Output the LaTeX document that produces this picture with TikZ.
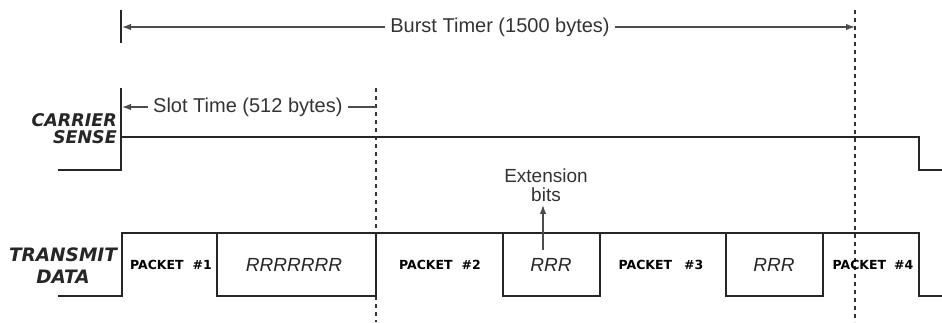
\documentclass[tikz,border=0pt]{standalone}
\usepackage{fontspec}
\setmainfont{Liberation Sans}
\newfontfamily\wideface{DejaVu Sans}
\usetikzlibrary{arrows.meta}

\tikzset{
  wire/.style={line width=1.3pt, black!85},
  guide/.style={line width=1.1pt, black!80, dash pattern=on 4pt off 4pt},
  dim/.style={line width=1.3pt, black!70},
  tip/.style={-{Latex[length=9pt,width=6.5pt]}},
  note/.style={font=\fontsize{20}{20}\selectfont, text=black!80, inner sep=5pt},
  sig/.style={font=\wideface\fontsize{17.5}{17}\selectfont\bfseries\itshape, text=black!85, inner sep=0pt},
  pkt/.style={font=\wideface\fontsize{12.5}{12.5}\selectfont\bfseries, inner sep=0pt},
  ext/.style={font=\fontsize{19}{19}\selectfont\itshape, text=black!85, inner sep=0pt},
}

\begin{document}
\begin{tikzpicture}[x=1pt,y=-1pt]
\useasboundingbox (0,0) rectangle (942,322);
% dashed time marks
\draw[guide] (855,10) -- (855,322);
\draw[guide] (376,88) -- (376,322);
% burst timer
\draw[wire] (121,10) -- (121,43);
\node[note] (burst) at (500,27) {Burst Timer (1500 bytes)};
\coordinate (burstL) at (122,27);
\coordinate (burstR) at (855,27);
\draw[dim,tip] (burst.west) -- (burstL);
\draw[dim,tip] (burst.east) -- (burstR);
% slot time
\node[note, anchor=west] (slot) at (148,107) {Slot Time (512 bytes)};
\coordinate (slotL) at (122,107);
\coordinate (slotR) at (376,107);
\draw[dim,tip] (slot.west) -- (slotL);
\draw[dim] (slot.east) -- (slotR);
% carrier sense
\node[sig, align=right, anchor=east] (cs) at (117,128.5) {CARRIER\\SENSE\hspace{5pt}};
\draw[wire] (58,170) -- (121,170) -- (121,88);
\draw[wire] (121,137) -- (919,137) -- (919,170) -- (942,170);
% transmit data
\node[sig, align=center, font=\wideface\fontsize{18.5}{22}\selectfont\bfseries\itshape] (td) at (63,265.5) {TRANSMIT\\DATA};
\draw[wire] (58,296) -- (122,296) -- (122,233) -- (919,233) -- (919,296) -- (942,296);
\draw[wire] (217,233) rectangle (376,296);
\draw[wire] (503,233) rectangle (600,296);
\draw[wire] (726,233) rectangle (823,296);
\node[pkt] (p1) at (171,265) {PACKET\hspace{9pt}\#1};
\node[ext] (r1) at (294,265) {RRRRRRR};
\node[pkt] (p2) at (440,265) {PACKET\hspace{9pt}\#2};
\node[ext] (r2) at (551,265) {RRR};
\node[pkt] (p3) at (661,265) {PACKET\hspace{12pt}\#3};
\node[ext] (r3) at (774,265) {RRR};
\node[pkt] (p4) at (873,265) {PACKET\hspace{8pt}\#4};
% extension bits
\node[note, align=center, font=\fontsize{19}{19.5}\selectfont, inner sep=0pt] (xb) at (546,185) {Extension\\bits};
\coordinate (xbase) at (543,250);
\draw[dim,tip] (xbase) -- ([yshift=-3pt]xb.south -| xbase);
\end{tikzpicture}
\end{document}
